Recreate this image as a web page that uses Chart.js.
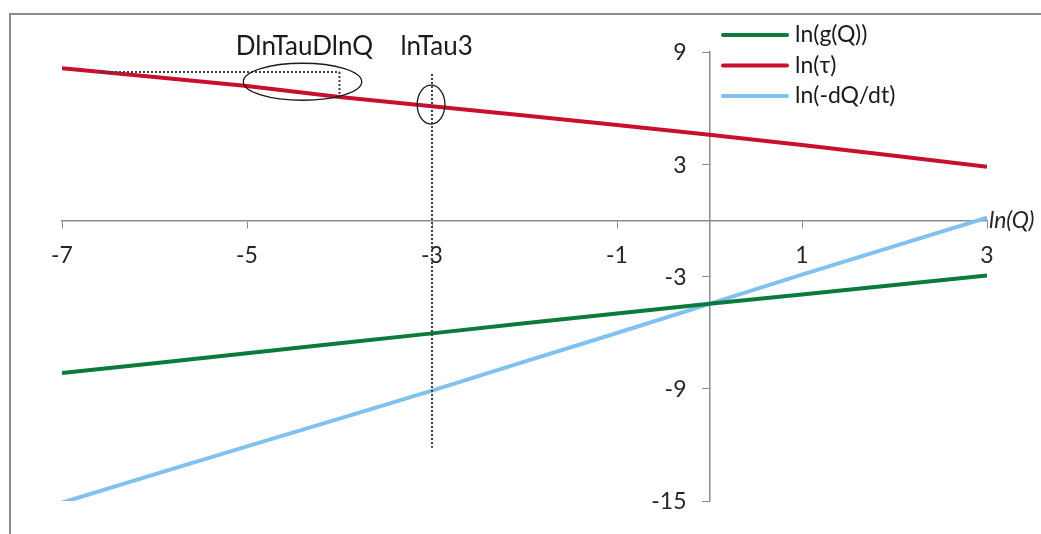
<!DOCTYPE html>
<html>
<head>
<meta charset="utf-8">
<script src="https://cdn.jsdelivr.net/npm/chart.js@4/dist/chart.umd.min.js"></script>
<style>
  html, body { margin: 0; padding: 0; background: #fff; }
  #wrap { width: 1041px; height: 534px; position: relative; }
</style>
</head>
<body>
<div id="wrap"><canvas id="chart"></canvas></div>
<script>
const lnQ = [-7, -6, -5, -4, -3, -2, -1, 0, 1, 2, 3];
const lnG = [-8.16, -7.64, -7.1, -6.57, -6.04, -5.5, -4.98, -4.46, -3.96, -3.45, -2.95];
const lnTau = [8.13, 7.66, 7.18, 6.59, 6.1, 5.6, 5.1, 4.58, 4.03, 3.45, 2.87];
const lnRate = [-15.09, -13.58, -12.08, -10.6, -9.1, -7.55, -6.02, -4.46, -2.9, -1.38, 0.14];

const xTicks = [-7, -5, -3, -1, 1, 3];
const yTicks = [-15, -9, -3, 3, 9];

// annotation guides, in data units
const guideH = { x: [-6.6, -4.0], y: 7.93 };
const guideV1 = { x: -4.0, y: [7.93, 6.43] };
const guideV2 = { x: -3.0, y: [7.82, -12.16] };
const ellipse1 = { x: -4.4, y: 7.41, rx: 0.64, ry: 0.99 };
const ellipse2 = { x: -3.01, y: 6.19, rx: 0.15, ry: 1.04 };
const notes = [
  { text: 'DlnTauDlnQ', x: -4.38, y: 9.27 },
  { text: 'lnTau3', x: -2.95, y: 9.27 }
];

const FONT = 'Lato, "Open Sans", sans-serif';
const colors = ['#0B7A3B', '#C8102E', '#80C1F0'];

function toPoints(ys) {
  return lnQ.map((x, i) => ({ x: x, y: ys[i] }));
}

const extras = {
  id: 'extras',
  beforeDraw(chart) {
    const c = chart.ctx;
    c.save();
    c.strokeStyle = '#8c8c8c';
    c.lineWidth = 2;
    c.strokeRect(10, 14, 1100, 600);
    c.restore();
  },
  afterDraw(chart) {
    const c = chart.ctx;
    const sx = chart.scales.x;
    const sy = chart.scales.y;
    const px = (v) => sx.getPixelForValue(v);
    const py = (v) => sy.getPixelForValue(v);
    c.save();
    // y tick labels (left of the crossing axis)
    c.fillStyle = '#262626';
    c.font = '23px ' + FONT;
    c.textAlign = 'right';
    c.textBaseline = 'middle';
    for (const v of yTicks) {
      c.fillText(String(v), px(0) - 23, py(v) + 1);
    }
    // dotted guides
    c.strokeStyle = '#404040';
    c.lineWidth = 2;
    c.setLineDash([2, 2]);
    c.beginPath();
    c.moveTo(px(guideH.x[0]), py(guideH.y));
    c.lineTo(px(guideH.x[1]), py(guideH.y));
    c.moveTo(px(guideV1.x), py(guideV1.y[0]));
    c.lineTo(px(guideV1.x), py(guideV1.y[1]));
    c.moveTo(px(guideV2.x), py(guideV2.y[0]));
    c.lineTo(px(guideV2.x), py(guideV2.y[1]));
    c.stroke();
    c.setLineDash([]);
    // ellipses
    c.strokeStyle = '#1a1a1a';
    c.lineWidth = 1.3;
    for (const e of [ellipse1, ellipse2]) {
      const rx = px(e.x + e.rx) - px(e.x);
      const ry = py(e.y - e.ry) - py(e.y);
      c.beginPath();
      c.ellipse(px(e.x), py(e.y), rx, ry, 0, 0, Math.PI * 2);
      c.stroke();
    }
    // notes
    c.fillStyle = '#1a1a1a';
    c.font = '26px ' + FONT;
    c.textAlign = 'center';
    for (const n of notes) {
      c.fillText(n.text, px(n.x), py(n.y));
    }
    // axis title
    c.font = 'italic 23px ' + FONT;
    c.textAlign = 'left';
    c.fillStyle = '#262626';
    c.fillText('ln(Q)', px(3) + 2, py(0));
    // legend
    c.font = '23px ' + FONT;
    chart.data.datasets.forEach((ds, i) => {
      const y = 35 + i * 30.5;
      c.strokeStyle = ds.borderColor;
      c.lineWidth = 4;
      c.lineCap = 'round';
      c.beginPath();
      c.moveTo(723, y);
      c.lineTo(787, y);
      c.stroke();
      c.fillStyle = '#1a1a1a';
      c.fillText(ds.label, 795, y);
    });
    c.restore();
  }
};

new Chart(document.getElementById('chart'), {
  type: 'line',
  data: {
    datasets: [
      { label: 'ln(g(Q))', data: toPoints(lnG), borderColor: colors[0] },
      { label: 'ln(τ)', data: toPoints(lnTau), borderColor: colors[1] },
      { label: 'ln(-dQ/dt)', data: toPoints(lnRate), borderColor: colors[2] }
    ]
  },
  options: {
    responsive: true,
    maintainAspectRatio: false,
    animation: false,
    layout: { padding: { left: 62, top: 52, right: 54, bottom: 33 } },
    elements: {
      line: { borderWidth: 4, tension: 0 },
      point: { radius: 0 }
    },
    scales: {
      x: {
        type: 'linear',
        position: { y: 0 },
        min: -7,
        max: 3,
        afterBuildTicks: (axis) => { axis.ticks = xTicks.map((v) => ({ value: v })); },
        grid: { drawOnChartArea: false, tickLength: 7, color: '#8c8c8c' },
        border: { color: '#8c8c8c', width: 1.5 },
        ticks: { font: { family: FONT, size: 23 }, color: '#262626', padding: 14, maxRotation: 0, autoSkip: false }
      },
      y: {
        type: 'linear',
        position: { x: 0 },
        min: -15,
        max: 9,
        afterBuildTicks: (axis) => { axis.ticks = yTicks.map((v) => ({ value: v })); },
        grid: { drawOnChartArea: false, tickLength: 7, color: '#8c8c8c' },
        border: { color: '#8c8c8c', width: 1.5 },
        ticks: { display: false, autoSkip: false }
      }
    },
    plugins: {
      legend: { display: false },
      tooltip: { enabled: false }
    }
  },
  plugins: [extras]
});
</script>
</body>
</html>
